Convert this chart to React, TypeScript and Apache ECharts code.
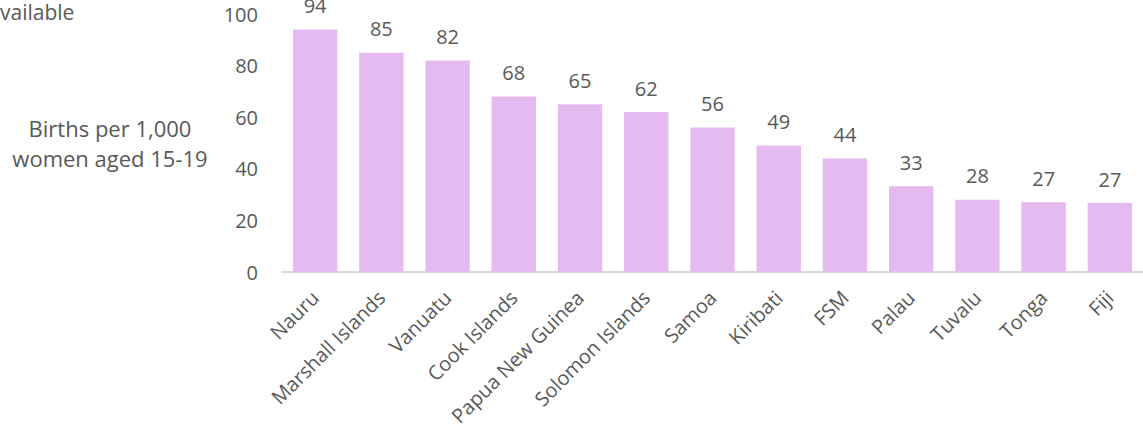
import React, { useEffect, useRef } from "react";
import * as echarts from "echarts";

const categories = [
  "Nauru",
  "Marshall Islands",
  "Vanuatu",
  "Cook Islands",
  "Papua New Guinea",
  "Solomon Islands",
  "Samoa",
  "Kiribati",
  "FSM",
  "Palau",
  "Tuvalu",
  "Tonga",
  "Fiji",
];
const births = [94, 85, 82, 68, 65, 62, 56, 49, 44, 33.2, 28, 27, 26.7];
const yTicks = [0, 20, 40, 60, 80, 100];

const FONT = "'Open Sans', sans-serif";
const TXT = "#595959";

export default function App() {
  const ref = useRef<HTMLDivElement>(null);
  useEffect(() => {
    if (!ref.current) return;
    const chart = echarts.init(ref.current, undefined, { renderer: "svg" });
    chart.setOption({
      animation: false,
      grid: { left: 282, right: 0, top: 14, bottom: 171, containLabel: false },
      xAxis: {
        type: "category",
        data: categories,
        axisLine: { lineStyle: { color: "#d9d9d9", width: 2 } },
        axisTick: { show: false },
        axisLabel: {
          rotate: 45,
          interval: 0,
          margin: 22,
          color: TXT,
          fontFamily: FONT,
          fontSize: 20,
        },
      },
      yAxis: {
        type: "value",
        min: yTicks[0],
        max: yTicks[yTicks.length - 1],
        interval: 20,
        splitLine: { show: false },
        axisLine: { show: false },
        axisTick: { show: false },
        axisLabel: { margin: 24, color: TXT, fontFamily: FONT, fontSize: 20 },
      },
      graphic: [
        {
          type: "text",
          left: 0,
          top: 1,
          style: { text: "vailable", fill: TXT, font: `21px ${FONT}` },
        },
        {
          type: "text",
          x: 110,
          y: 113,
          style: {
            text: "Births per 1,000\nwomen aged 15-19",
            fill: TXT,
            font: `22px ${FONT}`,
            align: "center",
            lineHeight: 30,
          },
        },
      ],
      series: [
        {
          type: "bar",
          data: births,
          barCategoryGap: "33%",
          itemStyle: { color: "#E5BAF1" },
          label: {
            show: true,
            position: "top",
            distance: 14,
            color: TXT,
            fontFamily: FONT,
            fontSize: 20,
            formatter: (p: any) => Math.round(p.value).toString(),
          },
        },
      ],
    });
    return () => chart.dispose();
  }, []);
  return <div ref={ref} style={{ width: 1143, height: 443, position: "absolute", left: 0, top: 0 }} />;
}
